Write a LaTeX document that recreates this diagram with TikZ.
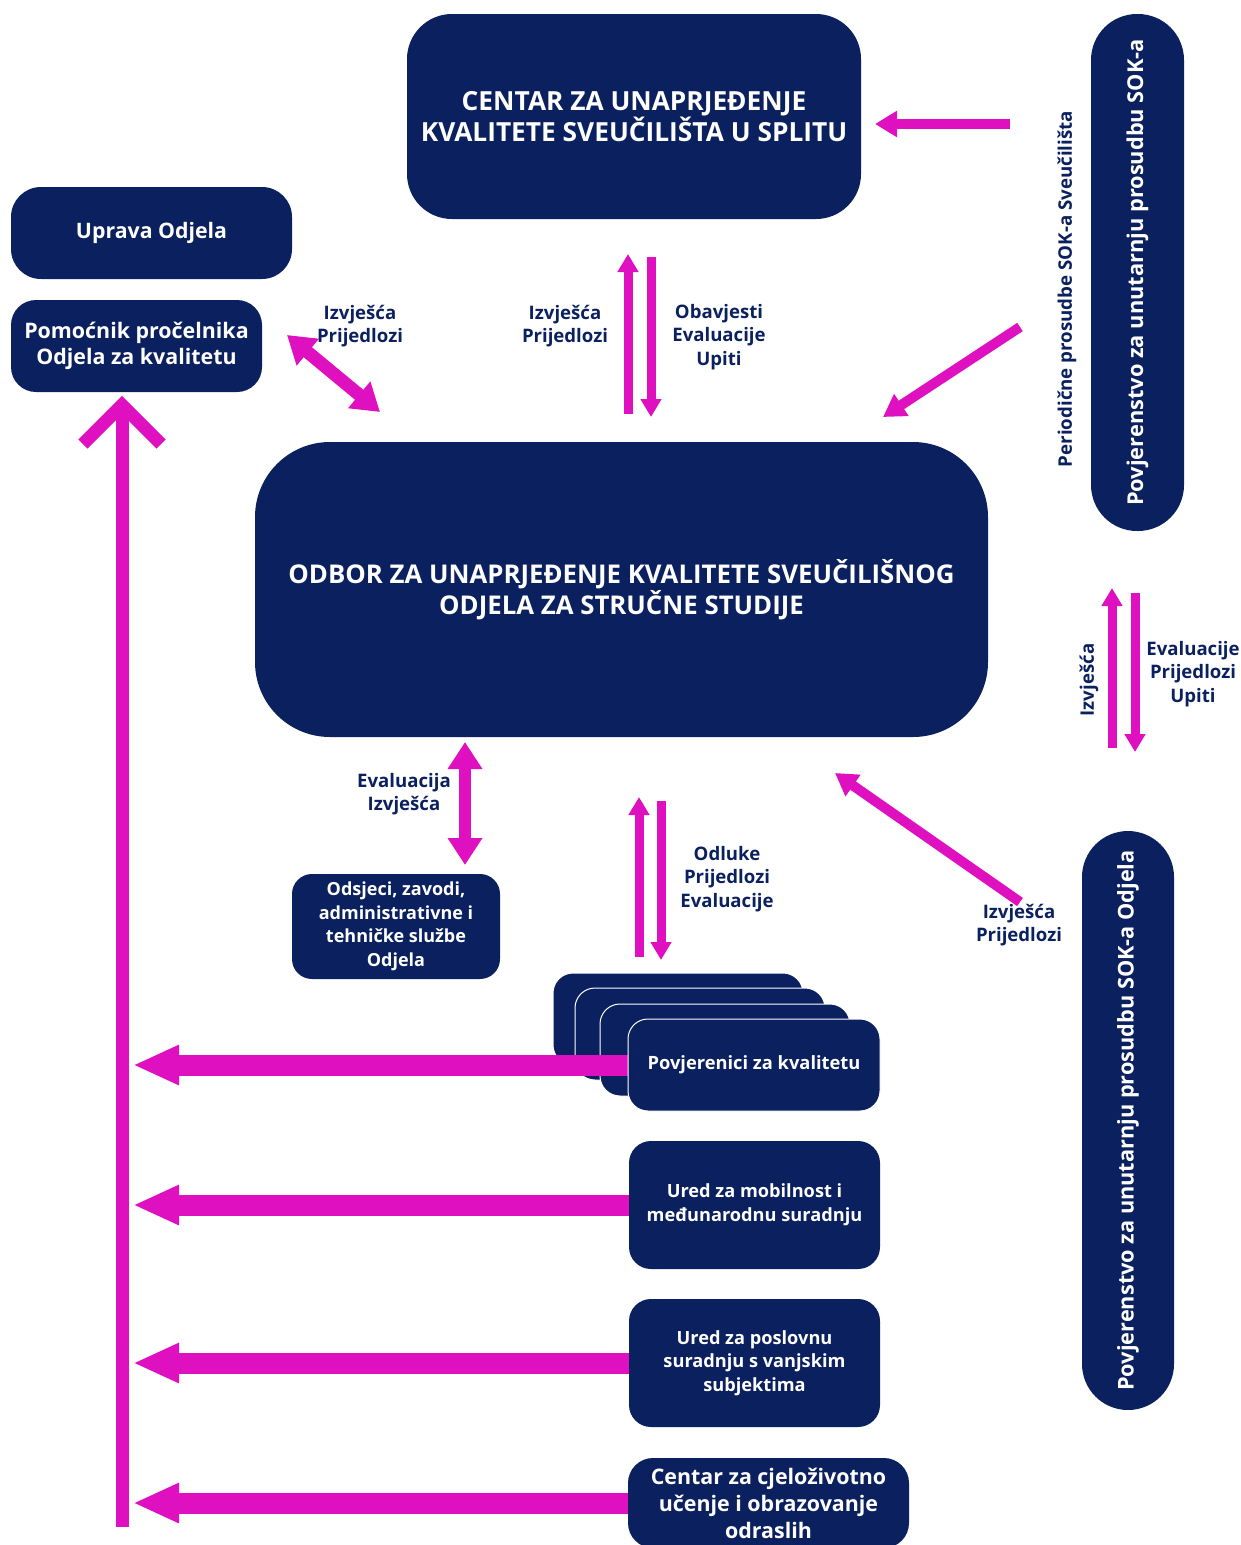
\documentclass[tikz,border=0pt]{standalone}
\usepackage{fontspec}
\setmainfont{Open Sans}
\usetikzlibrary{arrows.meta}
\definecolor{navy}{RGB}{11,33,95}
\definecolor{mag}{RGB}{222,16,192}
\begin{document}
\begin{tikzpicture}[x=1pt,y=-1pt,
  box/.style={fill=navy, text=white, align=center, inner sep=0pt, font=\bfseries\fontsize{21.3}{26}\selectfont},
  lab/.style={text=navy, align=center, inner sep=0pt, font=\bfseries\fontsize{18.6}{23.5}\selectfont},
  stk/.style={box, draw=white, line width=1pt, minimum width=250pt, minimum height=92pt, rounded corners=20pt},
  thin/.style={draw=mag, line width=9pt, -{Triangle[length=18pt,width=20pt]}},
  mid/.style={draw=mag, line width=10pt, -{Triangle[length=22pt,width=25pt]}},
  wide/.style={draw=mag, line width=21pt, -{Triangle[length=46pt,width=37pt]}},
  dbl/.style={draw=mag, line width=12.5pt, {Triangle[length=27pt,width=33pt]}-{Triangle[length=27pt,width=33pt]}}
]
\useasboundingbox (0,0) rectangle (1240,1545);

% boxes
\node[box, minimum width=454pt, minimum height=205pt, rounded corners=45pt, font=\bfseries\fontsize{26.3}{31}\selectfont] (cen) at (634,116.5) {CENTAR ZA UNAPRJEĐENJE\\KVALITETE SVEUČILIŠTA U SPLITU};
\node[box, minimum width=281pt, minimum height=92pt, rounded corners=30pt] (upr) at (151.5,233) {Uprava Odjela};
\node[box, minimum width=251pt, minimum height=92pt, rounded corners=25pt, font=\bfseries\fontsize{21.4}{26}\selectfont] (pom) at (136.5,346) {Pomoćnik pročelnika\\Odjela za kvalitetu};
\node[box, minimum width=733pt, minimum height=295pt, rounded corners=75pt, font=\bfseries\fontsize{25.8}{31}\selectfont] (odb) at (621.5,589.5) {ODBOR ZA UNAPRJEĐENJE KVALITETE SVEUČILIŠNOG\\ODJELA ZA STRUČNE STUDIJE};
\node[box, minimum width=93pt, minimum height=517pt, rounded corners=46pt] (pt) at (1137.5,272.5) {};
\node[text=white, font=\bfseries\fontsize{21.8}{26}\selectfont, rotate=90] (ptt) at (pt.center) {Povjerenstvo za unutarnju prosudbu SOK-a};
\node[box, minimum width=92pt, minimum height=579pt, rounded corners=46pt] (pb) at (1128,1120.5) {};
\node[text=white, font=\bfseries\fontsize{21.7}{26}\selectfont, rotate=90] (pbt) at (pb.center) {Povjerenstvo za unutarnju prosudbu SOK-a Odjela};
\node[box, minimum width=208pt, minimum height=105pt, rounded corners=20pt, font=\bfseries\fontsize{18}{23.5}\selectfont] (ods) at (396,926.5) {Odsjeci, zavodi,\\administrativne i\\tehničke službe\\Odjela};

% stacked boxes
\node[stk] (s1) at (678,1019) {};
\node[stk] (s2) at (700,1034) {};
\node[stk] (s3) at (725,1050) {};
\coordinate (povw) at (628,1065);
\draw[wide] (povw) -- (133,1065) coordinate (povend);
\node[stk, minimum width=252pt, font=\bfseries\fontsize{18.3}{24}\selectfont] (pov) at (754,1065) {Povjerenici za kvalitetu};

\node[box, minimum width=251pt, minimum height=128pt, rounded corners=22pt, font=\bfseries\fontsize{18.2}{24}\selectfont] (mob) at (754.5,1205) {Ured za mobilnost i\\međunarodnu suradnju};
\node[box, minimum width=251pt, minimum height=128pt, rounded corners=22pt, font=\bfseries\fontsize{18.2}{23.5}\selectfont] (pos) at (754.5,1363) {Ured za poslovnu\\suradnju s vanjskim\\subjektima};
\node[box, minimum width=281pt, minimum height=90pt, rounded corners=25pt, font=\bfseries\fontsize{21.4}{27}\selectfont] (cje) at (768.5,1503) {Centar za cjeloživotno\\učenje i obrazovanje\\odraslih};

% left trunk with chevron
\coordinate (lb) at (122,1527);
\coordinate (lt) at (122,405);
\coordinate (cl) at (83,444);
\coordinate (cr) at (161,444);
\draw[mag, line width=13pt] (lb) -- (lt);
\draw[mag, line width=13pt, line join=miter] (cl) -- (lt) -- (cr);

% horizontal arrows to trunk
\draw[wide] (mob.west) -- (133,1205);
\draw[wide] (pos.west) -- (133,1363);
\draw[wide] (cje.west) -- (133,1503);

% diagonal double arrow pom <-> odb
\coordinate (d1) at (287,335);
\coordinate (d2) at (380,412);
\draw[dbl, line width=13pt] (d1) -- (d2);

% cen <-> odb pair
\coordinate (u1) at (628,414); \coordinate (u2) at (628,254);
\coordinate (v1) at (651,257); \coordinate (v2) at (651,417);
\draw[thin] (u1) -- (u2);
\draw[thin] (v1) -- (v2);

% right arrow into cen
\coordinate (r1) at (1010,124); \coordinate (r2) at (875,124);
\draw[mid] (r1) -- (r2);

% diagonal top right
\coordinate (t1) at (1020,327); \coordinate (t2) at (883,417);
\draw[mid] (t1) -- (t2);

% right vertical pair
\coordinate (w1) at (1112,748); \coordinate (w2) at (1112,588);
\coordinate (x1) at (1135,593); \coordinate (x2) at (1135,752);
\draw[thin] (w1) -- (w2);
\draw[thin] (x1) -- (x2);

% diagonal bottom right
\coordinate (b1) at (1020,902); \coordinate (b2) at (835,773);
\draw[mid] (b1) -- (b2);

% evaluacija double arrow
\coordinate (e1) at (465,742); \coordinate (e2) at (465,865);
\draw[dbl] (e1) -- (e2);

% lower pair
\coordinate (y1) at (639,957); \coordinate (y2) at (639,797);
\coordinate (z1) at (661,801); \coordinate (z2) at (661,960);
\draw[thin] (y1) -- (y2);
\draw[thin] (z1) -- (z2);

% labels
\node[lab] (l1) at (360,326) {Izvješća\\Prijedlozi};
\node[lab] (l2) at (565,326) {Izvješća\\Prijedlozi};
\node[lab] (l3) at (719,337) {Obavjesti\\Evaluacije\\Upiti};
\node[lab, font=\bfseries\fontsize{18.7}{22}\selectfont, rotate=90] (l4) at (1067,289) {Periodične prosudbe SOK-a Sveučilišta};
\node[lab, rotate=90] (l5) at (1089,680) {Izvješća};
\node[lab] (l6) at (1193,674) {Evaluacije\\Prijedlozi\\Upiti};
\node[lab] (l7) at (404,794) {Evaluacija\\Izvješća};
\node[lab] (l8) at (727,879) {Odluke\\Prijedlozi\\Evaluacije};
\node[lab] (l9) at (1019,925) {Izvješća\\Prijedlozi};
\end{tikzpicture}
\end{document}
